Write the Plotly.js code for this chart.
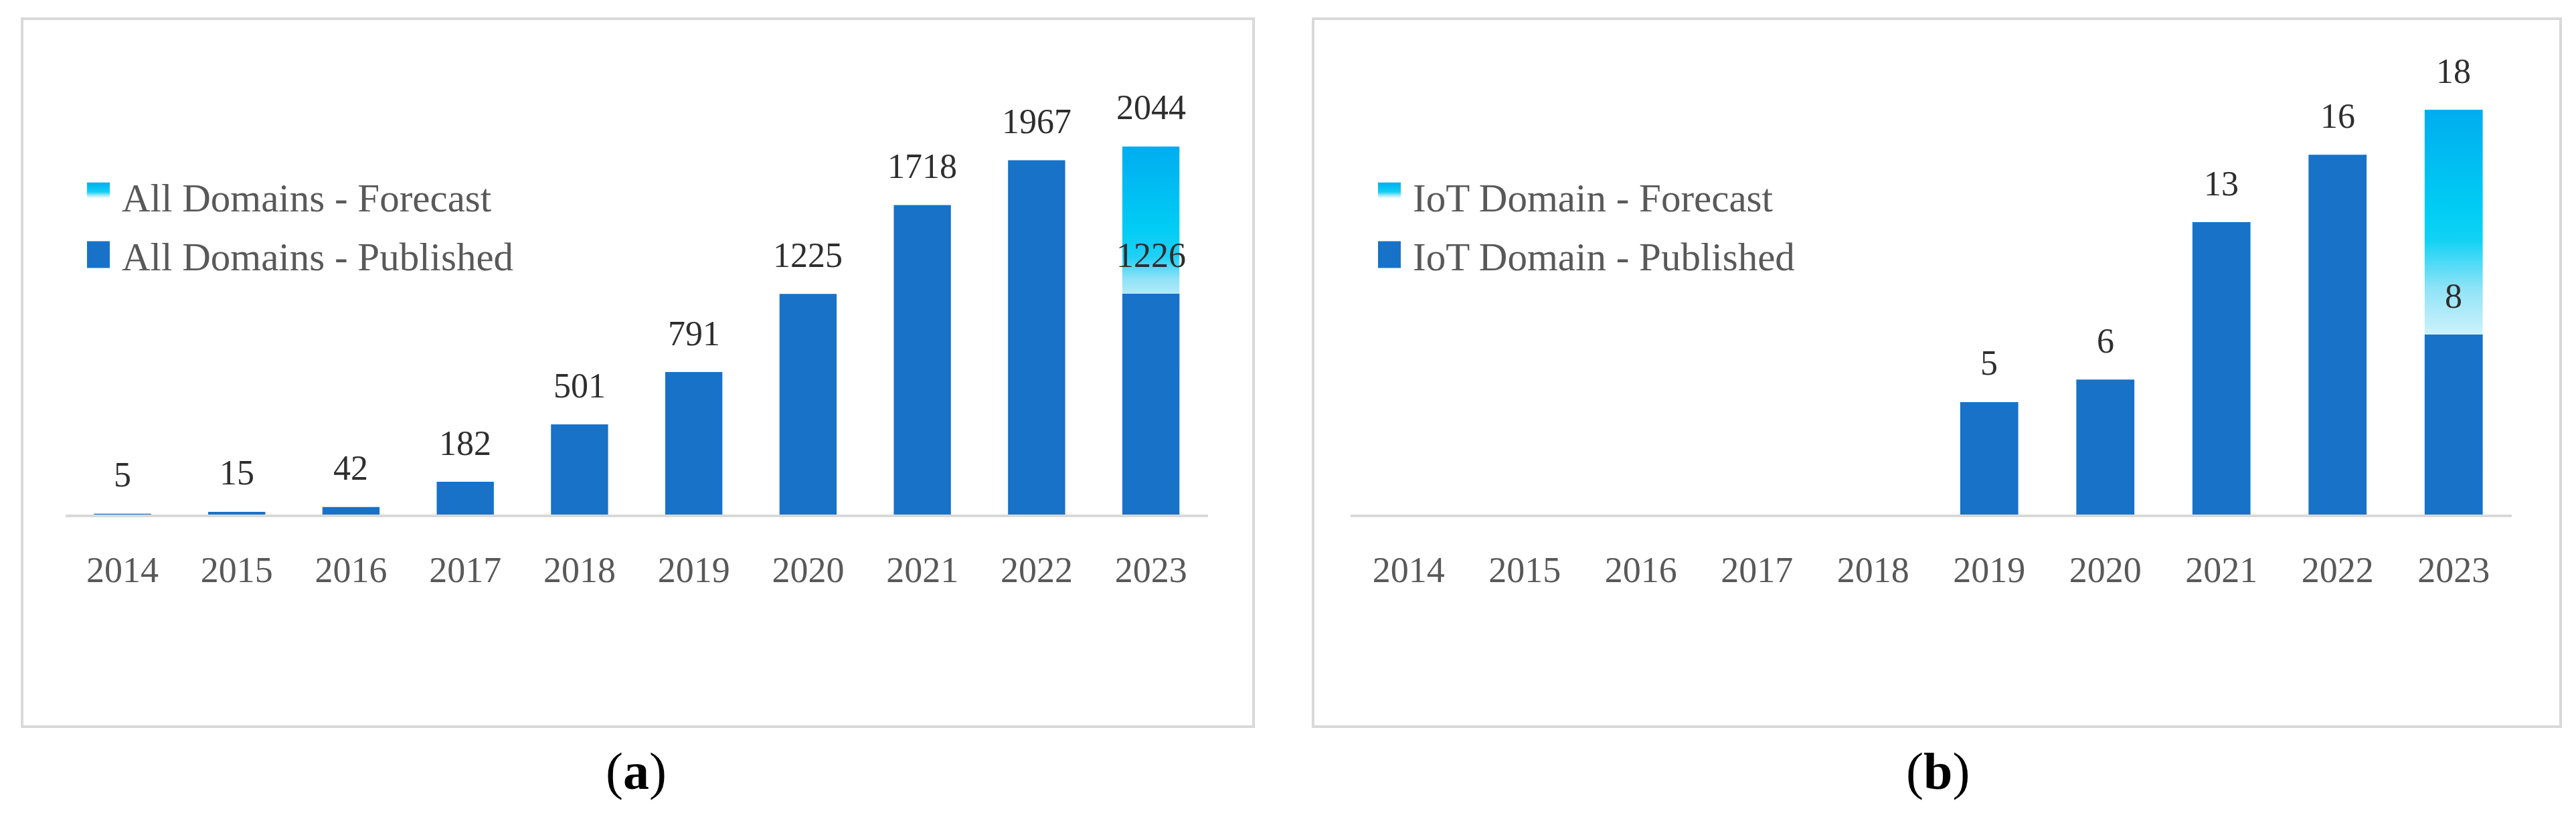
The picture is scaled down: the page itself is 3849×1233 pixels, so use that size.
<!DOCTYPE html>
<html>
<head>
<meta charset="utf-8">
<script src="https://cdn.plot.ly/plotly-3.0.1.min.js"></script>
<style>
  html, body { margin: 0; padding: 0; background: #ffffff; }
  #chart { width: 3849px; height: 1233px; }
</style>
</head>
<body>
<div id="chart"></div>
<script>
// ---------------- data ----------------
const years = ['2014', '2015', '2016', '2017', '2018', '2019', '2020', '2021', '2022', '2023'];
const allPublished = [5, 15, 42, 182, 501, 791, 1225, 1718, 1967, 1226];
const allForecast  = [null, null, null, null, null, null, null, null, null, 2044];
const iotPublished = [null, null, null, null, null, 5, 6, 13, 16, 8];
const iotForecast  = [null, null, null, null, null, null, null, null, null, 18];
const seriesNames = {
  allForecast: 'All Domains - Forecast',
  allPublished: 'All Domains - Published',
  iotForecast: 'IoT Domain - Forecast',
  iotPublished: 'IoT Domain - Published'
};
const captions = ['(<b>a</b>)', '(<b>b</b>)'];

// ---------------- style ----------------
const W = 3849, H = 1233;
const FONT = '"Liberation Serif", "Times New Roman", serif';
const PUB = '#1772C8';
const CYAN = '#00B4F0';

function px(x) { return x / W; }
function py(y) { return 1 - y / H; }

const data = [
  { type: 'bar', x: years, y: allForecast, name: seriesNames.allForecast, xaxis: 'x', yaxis: 'y',
    marker: { color: CYAN }, width: 0.5, legend: 'legend', legendgroup: 'af', hoverinfo: 'skip' },
  { type: 'bar', x: years, y: allPublished, name: seriesNames.allPublished, xaxis: 'x', yaxis: 'y',
    marker: { color: PUB }, width: 0.5, legend: 'legend', legendgroup: 'ap', hoverinfo: 'skip' },
  { type: 'bar', x: years, y: iotForecast, name: seriesNames.iotForecast, xaxis: 'x2', yaxis: 'y2',
    marker: { color: CYAN }, width: 0.5, legend: 'legend2', legendgroup: 'if', hoverinfo: 'skip' },
  { type: 'bar', x: years, y: iotPublished, name: seriesNames.iotPublished, xaxis: 'x2', yaxis: 'y2',
    marker: { color: PUB }, width: 0.5, legend: 'legend2', legendgroup: 'ip', hoverinfo: 'skip' }
];

// value labels built from the arrays (category index on the x axis)
const annotations = [];
function addLabels(vals, xref, yref) {
  vals.forEach(function (v, i) {
    if (v === null || v === undefined) return;
    annotations.push({ x: i, y: v, xref: xref, yref: yref, text: String(v), showarrow: false,
      yanchor: 'middle', xanchor: 'center', yshift: 58,
      font: { family: FONT, size: 52, color: '#2E2E2E' } });
  });
}
addLabels(allPublished, 'x', 'y');
addLabels(allForecast, 'x', 'y');
addLabels(iotPublished, 'x2', 'y2');
addLabels(iotForecast, 'x2', 'y2');

annotations.push({ x: px(950), y: py(1152), xref: 'paper', yref: 'paper', text: captions[0], showarrow: false,
  xanchor: 'center', yanchor: 'middle', font: { family: FONT, size: 78, color: '#000000' } });
annotations.push({ x: px(2895), y: py(1152), xref: 'paper', yref: 'paper', text: captions[1], showarrow: false,
  xanchor: 'center', yanchor: 'middle', font: { family: FONT, size: 78, color: '#000000' } });

const xaxisBase = {
  type: 'category', range: [-0.5, 9.5], showgrid: false, zeroline: false,
  showline: true, linecolor: '#D9D9D9', linewidth: 4, ticks: '', ticklabelstandoff: 32,
  tickfont: { family: FONT, size: 54, color: '#595959' }, fixedrange: true
};
const yaxisBase = { visible: false, showgrid: false, zeroline: false, fixedrange: true };

const legendBase = {
  orientation: 'v', xanchor: 'left', yanchor: 'top', bgcolor: 'rgba(0,0,0,0)',
  font: { family: FONT, size: 59, color: '#595959' }, traceorder: 'grouped', tracegroupgap: 8,
  itemwidth: 60, itemclick: false, itemdoubleclick: false
};

const layout = {
  width: W, height: H, margin: { l: 0, r: 0, t: 0, b: 0 },
  paper_bgcolor: '#ffffff', plot_bgcolor: 'rgba(0,0,0,0)',
  barmode: 'overlay', showlegend: true,
  xaxis: Object.assign({}, xaxisBase, { domain: [px(97.6), px(1805)], anchor: 'y' }),
  yaxis: Object.assign({}, yaxisBase, { domain: [py(769), py(80)], range: [0, 2560], anchor: 'x' }),
  xaxis2: Object.assign({}, xaxisBase, { domain: [px(2018), px(3753)], anchor: 'y2' }),
  yaxis2: Object.assign({}, yaxisBase, { domain: [py(769), py(80)], range: [0, 20.5], anchor: 'x2' }),
  legend: Object.assign({}, legendBase, { x: px(112), y: py(248) }),
  legend2: Object.assign({}, legendBase, { x: px(2041), y: py(248) }),
  shapes: [
    { type: 'rect', xref: 'paper', yref: 'paper', x0: px(33), x1: px(1873), y0: py(1086), y1: py(28),
      line: { color: '#D9D9D9', width: 4 }, fillcolor: 'rgba(0,0,0,0)', layer: 'below' },
    { type: 'rect', xref: 'paper', yref: 'paper', x0: px(1962), x1: px(3826), y0: py(1086), y1: py(28),
      line: { color: '#D9D9D9', width: 4 }, fillcolor: 'rgba(0,0,0,0)', layer: 'below' }
  ],
  annotations: annotations
};

const gd = document.getElementById('chart');
Plotly.newPlot(gd, data, layout, { staticPlot: true, displayModeBar: false }).then(function () {
  const NS = 'http://www.w3.org/2000/svg';
  const svg = gd.querySelector('.main-svg');
  let defs = svg.querySelector('defs');
  if (!defs) { defs = document.createElementNS(NS, 'defs'); svg.insertBefore(defs, svg.firstChild); }
  function addGrad(id, stops) {
    const g = document.createElementNS(NS, 'linearGradient');
    g.setAttribute('id', id);
    g.setAttribute('x1', '0'); g.setAttribute('y1', '1');
    g.setAttribute('x2', '0'); g.setAttribute('y2', '0');
    stops.forEach(function (s) {
      const st = document.createElementNS(NS, 'stop');
      st.setAttribute('offset', s[0]);
      st.setAttribute('stop-color', s[1]);
      g.appendChild(st);
    });
    defs.appendChild(g);
  }
  addGrad('gradA', [[0, '#FFFFFF'], [0.58, '#C4EEFA'], [0.64, '#8FE2F7'], [0.70, '#1FD0F5'], [0.78, '#00CCF4'], [1, '#00ADEF']]);
  addGrad('gradB', [[0, '#FFFFFF'], [0.43, '#D6F4FB'], [0.56, '#8EE3F7'], [0.68, '#10D2F5'], [0.76, '#00CCF4'], [1, '#00ADEF']]);
  addGrad('gradL', [[0, '#FFFFFF'], [0.40, '#FFFFFF'], [0.52, '#A8E9F8'], [0.65, '#10D0F5'], [1, '#00ADEF']]);

  const tA = gd.querySelectorAll('.subplot.xy .barlayer .trace');
  const tB = gd.querySelectorAll('.subplot.x2y2 .barlayer .trace');
  if (tA[0]) tA[0].querySelectorAll('path').forEach(function (p) { p.style.fill = 'url(#gradA)'; });
  if (tB[0]) tB[0].querySelectorAll('path').forEach(function (p) { p.style.fill = 'url(#gradB)'; });

  ['legend', 'legend2'].forEach(function (cls) {
    const lg = gd.querySelector('g.' + cls);
    if (!lg) return;
    const items = lg.querySelectorAll('.traces');
    items.forEach(function (it, k) {
      const p = it.querySelector('.legendpoints path');
      if (!p) return;
      p.setAttribute('d', 'M17,20H-17V-20H17Z');
      if (k === 0) p.style.fill = 'url(#gradL)';
      p.style.stroke = 'none';
    });
  });
});
</script>
</body>
</html>
